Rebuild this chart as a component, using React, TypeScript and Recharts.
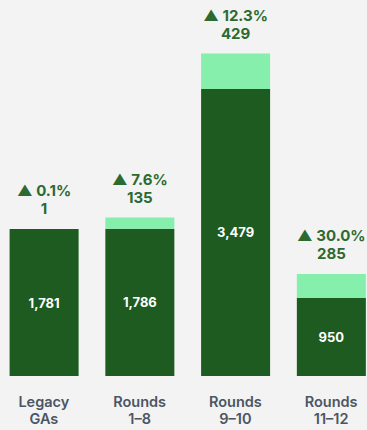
import { BarChart, Bar, XAxis, YAxis, LabelList } from "recharts";

const categories = ["Legacy GAs", "Rounds 1–8", "Rounds 9–10", "Rounds 11–12"];
const categoryLines = [
  ["Legacy", "GAs"],
  ["Rounds", "1–8"],
  ["Rounds", "9–10"],
  ["Rounds", "11–12"],
];
const baseValues = [1781, 1786, 3479, 950];
const addedValues = [1, 135, 429, 285];
const growthLabels = ["0.1%", "7.6%", "12.3%", "30.0%"];

const data = categories.map((name, i) => ({
  name,
  base: baseValues[i],
  added: addedValues[i],
  growth: growthLabels[i],
}));

const DARK = "#1d5b21";
const LIGHT = "#86efac";
const LABEL_GREEN = "#2c6a31";
const FONT = "Inter, 'Noto Sans', sans-serif";

function CategoryTick({ x, y, index }: any) {
  const lines = categoryLines[index] || [];
  return (
    <g>
      {lines.map((l, i) => (
        <text
          key={i}
          x={x}
          y={y + 23 + i * 17}
          textAnchor="middle"
          fontFamily={FONT}
          fontSize={14.5}
          fontWeight={600}
          fill="#4b5563"
        >
          {l}
        </text>
      ))}
    </g>
  );
}

function GrowthLabel({ x, y, width, index }: any) {
  const cx = x + width / 2;
  return (
    <g fontFamily={FONT} fontSize={15} fontWeight={700} fill={LABEL_GREEN}>
      <text x={cx} y={y - 33} textAnchor="middle">
        {"▲ " + growthLabels[index]}
      </text>
      <text x={cx} y={y - 15} textAnchor="middle">
        {addedValues[index].toLocaleString("en-US")}
      </text>
    </g>
  );
}

function BaseLabel({ x, y, width, height, index }: any) {
  return (
    <text
      x={x + width / 2}
      y={y + height / 2}
      dy={5}
      textAnchor="middle"
      fontFamily={FONT}
      fontSize={13}
      fontWeight={700}
      fill="#ffffff"
    >
      {baseValues[index].toLocaleString("en-US")}
    </text>
  );
}

export default function App() {
  return (
    <div
      style={{
        position: "absolute",
        left: 0,
        top: 0,
        width: 367,
        height: 430,
        overflow: "hidden",
        background: "#f3f3f3",
      }}
    >
      <div style={{ marginLeft: -4 }}>
        <BarChart
          width={383}
          height={430}
          data={data}
          margin={{ top: 46, right: 0, bottom: 0, left: 0 }}
          barCategoryGap={13.6}
        >
          <YAxis hide domain={[0, 4000]} />
          <XAxis
            dataKey="name"
            height={54}
            axisLine={false}
            tickLine={false}
            interval={0}
            tick={<CategoryTick />}
          />
          <Bar dataKey="base" stackId="a" fill={DARK} isAnimationActive={false}>
            <LabelList dataKey="base" content={<BaseLabel />} />
          </Bar>
          <Bar dataKey="added" stackId="a" fill={LIGHT} isAnimationActive={false}>
            <LabelList dataKey="growth" content={<GrowthLabel />} />
          </Bar>
        </BarChart>
      </div>
    </div>
  );
}
